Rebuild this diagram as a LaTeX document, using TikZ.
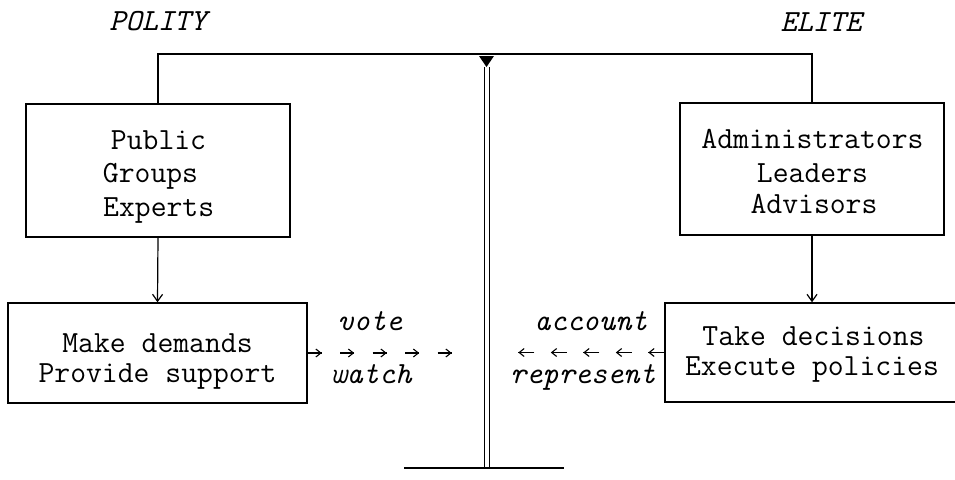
\documentclass[tikz,border=0pt]{standalone}
\usepackage{fontspec}
\usetikzlibrary{arrows.meta,decorations.markings}

\tikzset{
  frame/.style={draw, line width=1.4pt, inner sep=0pt},
  txt/.style={font=\fontsize{30.8}{34}\selectfont\ttfamily, inner sep=0pt, anchor=base},
  lbl/.style={font=\fontsize{30.8}{34}\selectfont\ttfamily\itshape, inner sep=0pt, anchor=base},
  beam/.style={line width=1.8pt},
  post/.style={line width=1pt},
  feed/.style={line width=1.2pt, -{Straight Barb[length=7pt,width=10pt]}},
  tickrow/.style 2 args={line width=1.1pt, dash pattern=on #1 off #2,
    postaction={decorate}},
  headsfrom/.style 2 args={decoration={markings,
    mark=between positions #1 and #2 step 32.5pt with
      {\arrow[line width=1.1pt]{Straight Barb[length=5pt,width=8pt]}}}}
}

\begin{document}
\begin{tikzpicture}[x=1pt,y=-1pt]
  \useasboundingbox (0,0) rectangle (955,479);
  \clip (0,0) rectangle (955,479);

  % the two groups and their functions
  \node[frame, minimum width=264pt, minimum height=133pt] (polbox) at (158,170.5) {};
  \node[frame, minimum width=264pt, minimum height=132pt] (elbox)  at (812,169) {};
  \node[frame, minimum width=299pt, minimum height=100pt] (actbox) at (157.5,353) {};
  \node[frame, minimum width=294pt, minimum height=99pt]  (decbox) at (812,352.5) {};

  \node[txt] (pol1) at (158.5,149) {Public};
  \node[txt] (pol2) at (150.5,182) {Groups};
  \node[txt] (pol3) at (158.7,216) {Experts};

  \node[txt] (el1) at (812.5,148) {Administrators};
  \node[txt] (el2) at (812.5,182) {Leaders};
  \node[txt] (el3) at (814,213) {Advisors};

  \node[txt] (act1) at (157.5,352) {Make demands};
  \node[txt] (act2) at (157.5,382) {Provide support};

  \node[txt] (dec1) at (813.5,345) {Take decisions};
  \node[txt] (dec2) at (812,375) {Execute policies};

  % headings
  \node[lbl] (polity) at (158,30) {POLITY};
  \node[lbl] (elite)  at (821,31) {ELITE};

  % balance: beam, pivot, post and foot
  \coordinate (pivot) at (486.5,54);
  \coordinate (tipL) at (479,56);
  \coordinate (tipR) at (494,56);
  \coordinate (tipB) at (486.5,67);
  \coordinate (postL) at (484,67);
  \coordinate (postR) at (489,67);
  \coordinate (footL) at (404,468);
  \coordinate (footR) at (564,468);

  \draw[beam] (polbox.north) |- (pivot) -| (elbox.north);
  \fill (tipL) -- (tipR) -- (tipB) -- cycle;
  \draw[post] (postL) -- (postL |- footL);
  \draw[post] (postR) -- (postR |- footL);
  \draw[beam] (footL) -- (footR);

  % downward links
  \draw[feed] (polbox.south) -- (actbox.north);
  \draw[feed] (elbox.south) -- (decbox.north);

  % flows towards the post
  \coordinate (voteend) at (452,353);
  \coordinate (acctend) at (518,352.5);
  \draw[tickrow={14pt}{18.5pt}, headsfrom={14pt}{145pt}] (actbox.east) -- (voteend);
  \draw[tickrow={16pt}{16.5pt}, headsfrom={16pt}{147pt}] (decbox.west) -- (acctend);

  \node[lbl] (vote)      at (370,330) {vote};
  \node[lbl] (watch)     at (371,383) {watch};
  \node[lbl] (account)   at (591,330) {account};
  \node[lbl] (represent) at (583,383) {represent};
\end{tikzpicture}
\end{document}
